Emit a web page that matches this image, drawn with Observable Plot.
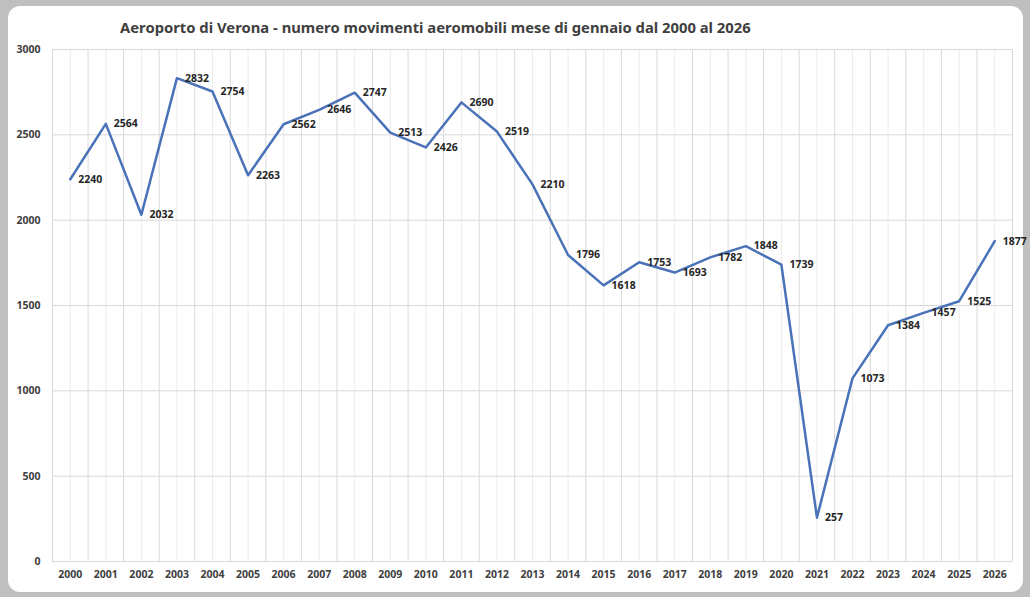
<!DOCTYPE html>
<html><head><meta charset="utf-8">
<script src="https://cdn.jsdelivr.net/npm/d3@7"></script>
<script src="https://cdn.jsdelivr.net/npm/@observablehq/plot@0.6"></script>
<style>
html,body{margin:0;padding:0;}
#wrap{position:relative;width:1030px;height:597px;background:#bfbfbf;overflow:hidden;font-family:"Noto Sans",sans-serif;}
#card{position:absolute;left:8px;top:6px;width:1015px;height:586px;background:#fff;border-radius:12px;}
#title{position:absolute;left:120px;top:17px;font-size:14.8px;font-weight:bold;color:#404040;white-space:nowrap;}
#chart{position:absolute;left:0;top:40px;}
</style></head>
<body>
<div id="wrap"><div id="card"></div><div id="title">Aeroporto di Verona - numero movimenti aeromobili mese di gennaio dal 2000 al 2026</div><div id="chart"></div></div>
<script>
const years = [2000,2001,2002,2003,2004,2005,2006,2007,2008,2009,2010,2011,2012,2013,2014,2015,2016,2017,2018,2019,2020,2021,2022,2023,2024,2025,2026];
const movimenti = [2240,2564,2032,2832,2754,2263,2562,2646,2747,2513,2426,2690,2519,2210,1796,1618,1753,1693,1782,1848,1739,257,1073,1384,1457,1525,1877];
const yTicks = [0,500,1000,1500,2000,2500,3000];

const data = years.map((y,i)=>({year:y, value:movimenti[i]}));
const bounds = years.map(y=>y-0.5).concat([years[years.length-1]+0.5]);

const chart = Plot.plot({
  width:1030, height:557,
  marginLeft:52, marginRight:18, marginTop:9, marginBottom:36,
  style:{background:"transparent", fontFamily:"Noto Sans, sans-serif"},
  x:{domain:[years[0]-0.5, years[years.length-1]+0.5], label:null},
  y:{domain:[0,3000], label:null},
  marks:[
    Plot.ruleX(years,{stroke:"#ececec", strokeWidth:1}),
    Plot.ruleX(bounds,{stroke:"#d9d9d9", strokeWidth:1}),
    Plot.ruleY(yTicks,{stroke:"#d9d9d9", strokeWidth:1}),
    Plot.axisX({ticks:years, tickFormat:d=>String(d), tickSize:0, tickPadding:9, fontSize:10.5, fontWeight:"bold", fill:"#404040", label:null}),
    Plot.axisY({ticks:yTicks, tickFormat:d=>String(d), tickSize:0, tickPadding:12, fontSize:10.5, fontWeight:"bold", fill:"#404040", label:null}),
    Plot.line(data,{x:"year", y:"value", stroke:"#4a72b8", strokeWidth:2.5}),
    Plot.text(data,{x:"year", y:"value", text:d=>String(d.value), dx:8, textAnchor:"start", fontSize:10.5, fontWeight:"bold", fill:"#262626"})
  ]
});
document.getElementById("chart").appendChild(chart);
</script>
</body></html>
